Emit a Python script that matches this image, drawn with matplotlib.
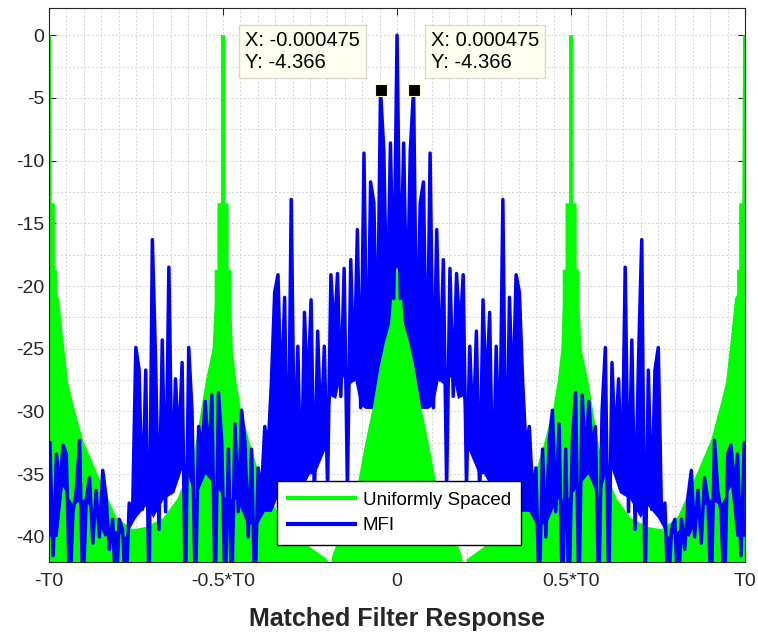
import matplotlib
matplotlib.use("Agg")
import matplotlib.pyplot as plt
from matplotlib.lines import Line2D
from matplotlib.ticker import MultipleLocator
import numpy as np

plt.rcParams['font.family'] = ['Liberation Sans', 'DejaVu Sans']
plt.rcParams['axes.unicode_minus'] = False

T0 = 0.01  # seconds

# MFI response, right half (autocorrelation is even), sample step 0.0095*T0
mfi_step = 0.0095
mfi_right = [
    0.0, -21.0, -8.6, -23.0, -9.2, -4.366, -26.5, -13.4, -11.7, -29.5,
    -9.4, -29.7, -15.5, -27.5, -17.9, -36.0, -18.6, -28.8, -19.0, -24.0,
    -19.1, -36.0, -24.8, -32.0, -23.6, -37.0, -21.1, -29.0, -22.1, -37.0,
    -24.8, -34.7, -13.1, -38.0, -20.9, -29.6, -19.1, -20.5, -27.7, -33.0,
    -31.2, -36.5, -34.5, -45.0, -33.0, -40.0, -32.4, -29.9, -38.0, -31.0,
    -45.0, -33.0, -45.0, -32.5, -28.5, -45.0, -28.7, -34.0, -29.2, -33.0,
    -31.2, -45.0, -30.0, -24.9, -45.0, -26.1, -33.0, -27.4, -36.3, -18.5,
    -38.0, -24.3, -39.4, -26.1, -16.3, -45.0, -26.7, -37.8, -26.7, -24.9,
    -38.5, -37.3, -45.0, -39.4, -38.6, -45.0, -38.6, -41.0, -36.8, -34.7,
    -40.0, -36.3, -40.5, -35.3, -37.0, -45.0, -32.3, -36.3, -38.0, -45.0,
    -33.4, -32.7, -36.0, -33.4, -41.5, -32.5,
]
# lower edge of the solid-looking part of the dense MFI trace (right half)
mfi_floor_u = [0.000, 0.010, 0.020, 0.035, 0.050, 0.070, 0.090, 0.105, 0.120,
               0.140, 0.160, 0.175, 0.190, 0.205, 0.220, 0.235, 0.250, 0.270,
               0.290, 0.310, 0.330, 0.345, 0.360, 0.380, 0.400, 0.430, 0.460,
               0.490, 0.520, 0.550, 0.580, 0.610, 0.640, 0.670, 0.700, 0.720,
               0.750, 0.780, 0.810, 0.840, 0.870, 0.900, 0.930, 0.960, 0.975,
               1.000]
mfi_floor_db = [-18.5, -19.5, -23.0, -24.5, -26.5, -29.8, -29.8, -29.5, -27.5,
                -28.0, -27.0, -29.0, -28.8, -33.0, -34.0, -35.0, -35.0, -36.0,
                -36.0, -37.0, -36.0, -37.0, -38.0, -38.0, -39.0, -39.0, -37.0,
                -37.0, -36.0, -35.0, -37.0, -34.0, -36.5, -37.0, -38.5, -37.5,
                -38.5, -40.0, -39.5, -40.0, -38.0, -37.0, -37.5, -36.0, -40.0,
                -40.0]

# Uniformly spaced response: upper envelope, right half, x in units of T0
uni_u = [
    0.000, 0.010, 0.018, 0.026, 0.039, 0.056, 0.073, 0.093, 0.111, 0.150,
    0.187, 0.192, 0.200, 0.260, 0.320, 0.365, 0.394, 0.420, 0.448, 0.462,
    0.472, 0.476, 0.476, 0.484, 0.484, 0.494, 0.494, 0.506, 0.506, 0.516,
    0.516, 0.524, 0.524, 0.530, 0.549, 0.580, 0.609, 0.632, 0.672, 0.720,
    0.760, 0.807, 0.865, 0.902, 0.931, 0.945, 0.960, 0.971, 0.977, 0.977,
    0.983, 0.983, 0.992, 0.994, 1.000,
]
uni_db = [
    -19.0, -17.9, -18.4, -22.2, -24.8, -27.5, -30.1, -32.8, -35.5, -38.8,
    -41.6, -44.0, -41.8, -40.6, -39.0, -37.0, -35.2, -32.8, -29.9, -27.5,
    -25.0, -21.5, -18.7, -18.7, -13.4, -13.4, 0.0, 0.0, -13.4, -13.4,
    -18.7, -18.7, -21.5, -25.0, -27.5, -32.8, -35.5, -37.0, -38.5, -39.2,
    -39.4, -38.4, -34.7, -32.3, -29.3, -27.7, -24.0, -21.0, -20.7, -18.7,
    -18.7, -13.4, -13.4, 0.0, 0.0,
]

tick_pos = [-T0, -0.5 * T0, 0, 0.5 * T0, T0]
tick_labels = ['-T0', '-0.5*T0', '0', '0.5*T0', 'T0']

tip_x = 0.000475
tip_y = -4.366


def mirror(u, v):
    u = np.asarray(u, dtype=float)
    v = np.asarray(v, dtype=float)
    return (np.concatenate([-u[:0:-1], u]), np.concatenate([v[:0:-1], v]))


mfi_x, mfi_y = mirror(np.arange(len(mfi_right)) * mfi_step * T0, mfi_right)
floor_x, floor_y = mirror(np.array(mfi_floor_u) * T0, mfi_floor_db)
uni_x, uni_y = mirror(np.array(uni_u) * T0, uni_db)

fig = plt.figure(figsize=(7.58, 6.32), dpi=100)
ax = fig.add_axes([0.0646, 0.1108, 0.9184, 0.8762])

green = (0, 1, 0)
blue = (0, 0, 1)
txt = '#262626'

ax.fill_between(uni_x, uni_y, -60, color=green, linewidth=0, zorder=2)
ax.fill(np.concatenate([mfi_x, floor_x[::-1]]),
        np.concatenate([mfi_y, floor_y[::-1]]),
        color=blue, linewidth=0, zorder=3)
ax.plot(mfi_x, mfi_y, color=blue, linewidth=2.5, zorder=3)

ax.set_xlim(-T0, T0)
ax.set_ylim(-42, 2.15)
ax.set_xticks(tick_pos)
ax.set_xticklabels(tick_labels)
ax.set_yticks(np.arange(-40, 1, 5))
ax.xaxis.set_minor_locator(MultipleLocator(0.05 * T0))
ax.yaxis.set_minor_locator(MultipleLocator(2.5))

ax.set_axisbelow(True)
ax.grid(which='both', color='#d4d4d4', linestyle=(0, (2, 2)), linewidth=0.7)
ax.tick_params(which='major', direction='in', length=5, top=True, right=True,
               labelsize=14, colors=txt, width=0.8)
ax.tick_params(axis='x', which='major', pad=8)
ax.tick_params(which='minor', length=0)
for s in ax.spines.values():
    s.set_color(txt)
    s.set_linewidth(0.8)

ax.set_xlabel('Matched Filter Response', fontsize=18, fontweight='bold',
              color=txt, labelpad=12)

# data tips
for sx in (-1, 1):
    ax.plot(sx * tip_x, tip_y, marker='s', markersize=9, color='black',
            markeredgecolor='#fff8c0', markeredgewidth=0.8, zorder=6)
ax.text(-0.001063, -2.95, 'X: %.6f\nY: %.3f' % (-tip_x, tip_y),
        ha='right', va='bottom', multialignment='left', fontsize=14.5,
        color='black', zorder=7,
        bbox=dict(boxstyle='square,pad=0.3', facecolor='#fffff0',
                  edgecolor='#d8d8d0', linewidth=1))
ax.text(0.000977, -2.95, 'X: %.6f\nY: %.3f' % (tip_x, tip_y),
        ha='left', va='bottom', multialignment='left', fontsize=14.5,
        color='black', zorder=7,
        bbox=dict(boxstyle='square,pad=0.3', facecolor='#fffff0',
                  edgecolor='#d8d8d0', linewidth=1))

handles = [Line2D([], [], color=green, linewidth=3),
           Line2D([], [], color=blue, linewidth=3)]
leg = ax.legend(handles, ['Uniformly Spaced', 'MFI'], loc='lower center',
                bbox_to_anchor=(0.503, 0.031), borderaxespad=0, fontsize=13.5,
                fancybox=False, framealpha=1, edgecolor='black',
                handlelength=3.6, handletextpad=0.4, labelspacing=0.45,
                borderpad=0.55)
leg.get_frame().set_linewidth(1.0)
leg.set_zorder(8)

fig.savefig('out.png', dpi=100)
